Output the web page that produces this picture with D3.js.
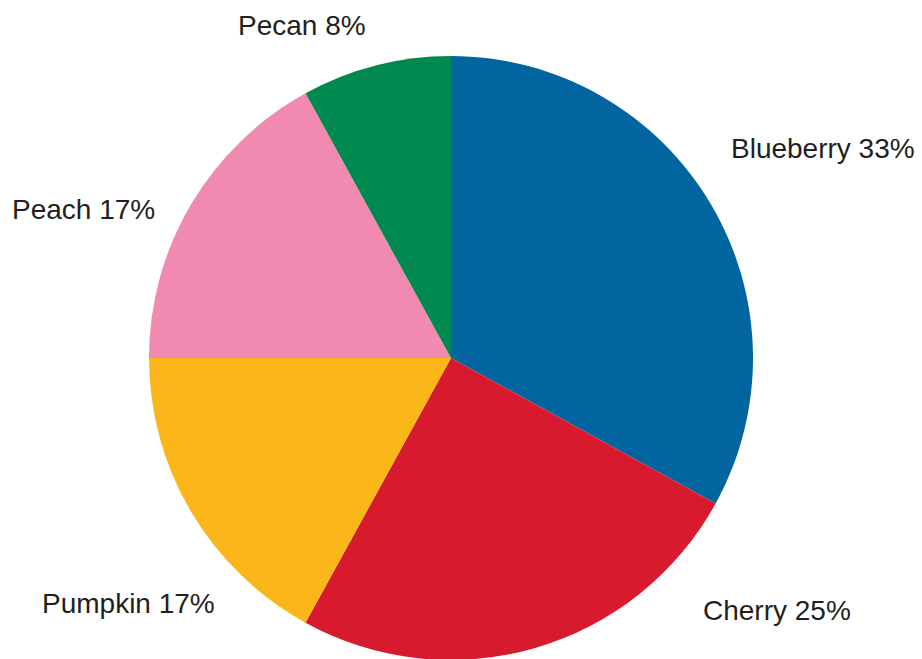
<!DOCTYPE html>
<html>
<head>
<meta charset="utf-8">
<script src="https://cdn.jsdelivr.net/npm/d3@7"></script>
<style>
  html, body { margin: 0; padding: 0; background: #ffffff; }
  svg { display: block; }
  .label { font-family: "Liberation Sans", Arial, Helvetica, sans-serif; font-size: 28px; fill: #231f20; }
</style>
</head>
<body>
<svg id="chart" width="922" height="659"></svg>
<script>
// Pie flavours and their shares (percent)
const flavours = ["Blueberry", "Cherry", "Pumpkin", "Peach", "Pecan"];
const shares = [33, 25, 17, 17, 8];
const sliceColours = ["#03659f", "#d71a2e", "#fbb719", "#f08ab0", "#00894f"];

// Label placement: left x and baseline y of each label
const labelX = [731, 703, 42, 12, 238];
const labelY = [158, 620, 613, 219, 35];

const cx = 451, cy = 358, radius = 302;

const svg = d3.select("#chart");

const pie = d3.pie().sort(null).value(d => d.value);
const arc = d3.arc().innerRadius(0).outerRadius(radius);

const data = flavours.map((name, i) => ({ name, value: shares[i], colour: sliceColours[i] }));

const g = svg.append("g").attr("transform", `translate(${cx},${cy})`);

g.selectAll("path")
  .data(pie(data))
  .join("path")
  .attr("d", arc)
  .attr("fill", d => d.data.colour);

svg.selectAll("text.label")
  .data(data)
  .join("text")
  .attr("class", "label")
  .attr("x", (d, i) => labelX[i])
  .attr("y", (d, i) => labelY[i])
  .text(d => `${d.name} ${d.value}%`);
</script>
</body>
</html>
